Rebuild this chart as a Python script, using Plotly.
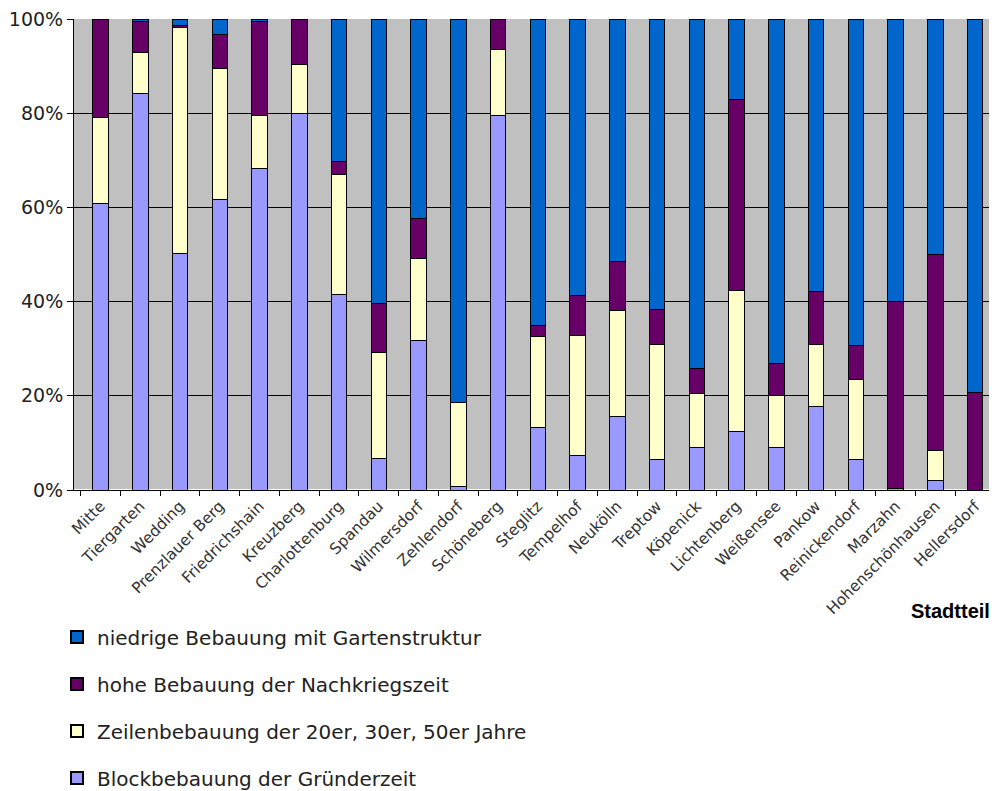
import plotly.graph_objects as go

districts = ["Mitte", "Tiergarten", "Wedding", "Prenzlauer Berg", "Friedrichshain", "Kreuzberg",
             "Charlottenburg", "Spandau", "Wilmersdorf", "Zehlendorf", "Schöneberg", "Steglitz",
             "Tempelhof", "Neukölln", "Treptow", "Köpenick", "Lichtenberg", "Weißensee", "Pankow",
             "Reinickendorf", "Marzahn", "Hohenschönhausen", "Hellersdorf"]

block = [60.9, 84.2, 50.2, 61.6, 68.3, 80.0, 41.5, 6.7, 31.8, 0.7, 79.6, 13.2,
         7.4, 15.6, 6.4, 9.1, 12.5, 9.1, 17.7, 6.4, 0.3, 2.0, 0.0]
zeilen = [18.2, 8.7, 47.9, 27.8, 11.2, 10.4, 25.4, 22.5, 17.4, 17.9, 14.0, 19.4,
          25.5, 22.6, 24.4, 11.4, 29.8, 10.9, 13.1, 17.0, 0.0, 6.4, 0.0]
hohe = [20.9, 6.5, 0.5, 7.3, 20.0, 9.6, 2.8, 10.3, 8.5, 0.0, 6.4, 2.4,
        8.5, 10.4, 7.6, 5.3, 40.6, 6.9, 11.3, 7.2, 39.7, 41.6, 20.7]
niedrig = [0.0, 0.6, 1.4, 3.3, 0.5, 0.0, 30.3, 60.5, 42.3, 81.4, 0.0, 65.0,
           58.6, 51.4, 61.6, 74.2, 17.1, 73.1, 57.9, 69.4, 60.0, 50.0, 79.3]

series = [
    ("Blockbebauung der Gründerzeit", block, "#9999FF", 4),
    ("Zeilenbebauung der 20er, 30er, 50er Jahre", zeilen, "#FFFFCC", 3),
    ("hohe Bebauung der Nachkriegszeit", hohe, "#660066", 2),
    ("niedrige Bebauung mit Gartenstruktur", niedrig, "#0066CC", 1),
]

fig = go.Figure()
for name, vals, col, rank in series:
    fig.add_trace(go.Bar(
        x=districts, y=vals, name=name, legendgroup=name, legendrank=rank,
        marker=dict(color=col, line=dict(color="black", width=1)),
    ))

fig.update_layout(
    width=989, height=805,
    barmode="stack", bargap=0.61,
    paper_bgcolor="white", plot_bgcolor="#C0C0C0",
    margin=dict(l=66, r=4, t=11, b=323),
    font=dict(family="DejaVu Sans, Arial", color="black"),
    showlegend=True,
    legend=dict(
        orientation="v", traceorder="grouped", tracegroupgap=18,
        x=-0.0185, xanchor="left", y=-0.2707, yanchor="top",
        font=dict(size=20, family="DejaVu Sans", color="#222"),
        itemsizing="constant", bgcolor="rgba(0,0,0,0)",
    ),
)

fig.update_xaxes(
    type="category", range=[-0.667, 22.45], tickangle=-45, tickson="boundaries",
    ticks="outside", ticklen=5, tickcolor="black", showline=True, linecolor="black",
    linewidth=1, tickfont=dict(size=15.5, family="DejaVu Sans", color="#333"),
    showgrid=False, automargin=False,
)
fig.update_yaxes(
    range=[0, 100], dtick=20, ticksuffix="%", ticks="outside", ticklen=6,
    tickcolor="black", showline=True, linecolor="black", linewidth=1,
    showgrid=True, gridcolor="black", gridwidth=1, ticklabeloverflow="allow",
    tickfont=dict(size=19, family="DejaVu Sans", color="#222"), automargin=False,
)

fig.add_annotation(
    text="<b>Stadtteil</b>", xref="paper", yref="paper", x=0.9989, y=-0.257,
    xanchor="right", yanchor="middle", showarrow=False,
    font=dict(size=20, family="Liberation Sans, Arial", color="black"),
)

fig.write_html("out.html")
